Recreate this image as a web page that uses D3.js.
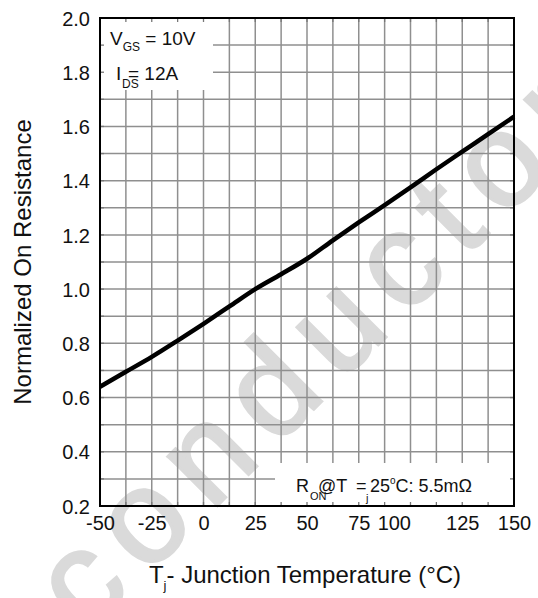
<html>
<head>
<meta charset="utf-8">
<script src="https://d3js.org/d3.v7.min.js"></script>
<style>
body { margin: 0; background: #fff; }
svg { display: block; font-family: "Liberation Sans", Arial, sans-serif; }
text { fill: #111; }
</style>
</head>
<body>
<div id="plot"></div>
<script>
// curve: junction temperature (°C) vs normalized R_on
var temps = [-50, -37.5, -25, -12.5, 0, 12.5, 25, 37.5, 50, 62.5, 75, 87.5, 100, 112.5, 125, 137.5, 150];
var resistance = [0.64, 0.695, 0.75, 0.81, 0.872, 0.936, 1.0, 1.055, 1.112, 1.18, 1.246, 1.31, 1.375, 1.442, 1.507, 1.572, 1.636];

var xTicks = [-50, -25, 0, 25, 50, 75, 100, 125, 150];
var yTicks = [0.2, 0.4, 0.6, 0.8, 1.0, 1.2, 1.4, 1.6, 1.8, 2.0];
var xGrid = d3.range(-50, 150.01, 12.5);
var yGrid = d3.range(0.2, 2.001, 0.1);

var W = 538, H = 598;
var pLeft = 100, pTop = 18, pRight = 514, pBottom = 506;

var svg = d3.select("#plot").append("svg").attr("width", W).attr("height", H);

var x = d3.scaleLinear().domain([-50, 150]).range([pLeft, pRight]);
var y = d3.scaleLinear().domain([0.2, 2.0]).range([pBottom, pTop]);

// watermark behind everything
svg.append("text")
  .attr("transform", "translate(87,636) rotate(-45)")
  .style("font-size", "132px")
  .style("letter-spacing", "18px")
  .style("fill", "#dadada")
  .style("stroke", "#dadada")
  .style("stroke-width", 3)
  .text("conductor");

// grid
var grid = svg.append("g").attr("stroke", "#8f8f8f").attr("stroke-width", 1.5);
grid.selectAll("line.v").data(xGrid).enter().append("line")
  .attr("class", "v")
  .attr("x1", d => x(d)).attr("x2", d => x(d))
  .attr("y1", pTop).attr("y2", pBottom);
grid.selectAll("line.h").data(yGrid).enter().append("line")
  .attr("class", "h")
  .attr("x1", pLeft).attr("x2", pRight)
  .attr("y1", d => y(d)).attr("y2", d => y(d));

// white label boxes that hide the grid
svg.append("rect").attr("x", pLeft).attr("y", pTop).attr("width", 113).attr("height", 72).attr("fill", "#fff");
svg.append("rect").attr("x", 275).attr("y", 463).attr("width", pRight - 275).attr("height", pBottom - 463).attr("fill", "#fff");

// small inner ticks on all four sides
var ticks = svg.append("g").attr("stroke", "#777").attr("stroke-width", 1.3);
var tl = 4;
xGrid.forEach(function (d) {
  ticks.append("line").attr("x1", x(d)).attr("x2", x(d)).attr("y1", pTop).attr("y2", pTop + tl);
  ticks.append("line").attr("x1", x(d)).attr("x2", x(d)).attr("y1", pBottom).attr("y2", pBottom - tl);
});
yGrid.forEach(function (d) {
  ticks.append("line").attr("x1", pLeft).attr("x2", pLeft + tl).attr("y1", y(d)).attr("y2", y(d));
  ticks.append("line").attr("x1", pRight).attr("x2", pRight - tl).attr("y1", y(d)).attr("y2", y(d));
});

// the curve
var line = d3.line().x((d, i) => x(temps[i])).y(d => y(d)).curve(d3.curveMonotoneX);
svg.append("path").datum(resistance)
  .attr("d", line)
  .attr("fill", "none")
  .attr("stroke", "#000")
  .attr("stroke-width", 4.5);

// frame
svg.append("rect").attr("x", pLeft).attr("y", pTop).attr("width", pRight - pLeft).attr("height", pBottom - pTop)
  .attr("fill", "none").attr("stroke", "#000").attr("stroke-width", 2);

// axes (labels only)
var xAxis = svg.append("g").attr("transform", "translate(0," + pBottom + ")")
  .call(d3.axisBottom(x).tickValues(xTicks).tickSize(0).tickPadding(0).tickFormat(d => String(d)));
xAxis.select(".domain").remove();
xAxis.selectAll("text")
  .attr("y", 24).attr("dy", null)
  .style("font-size", "20px").style("fill", "#111")
  .style("font-family", "Liberation Sans, Arial, sans-serif");
// the 100 label sits left of its grid line in the original
xAxis.selectAll(".tick").filter(d => d === 100).select("text").attr("text-anchor", "end");

var yAxis = svg.append("g").attr("transform", "translate(" + pLeft + ",0)")
  .call(d3.axisLeft(y).tickValues(yTicks).tickSize(0).tickPadding(10).tickFormat(d3.format(".1f")));
yAxis.select(".domain").remove();
yAxis.selectAll("text")
  .attr("dy", "0.36em")
  .style("font-size", "20px").style("fill", "#111")
  .style("font-family", "Liberation Sans, Arial, sans-serif");

// axis titles
svg.append("text")
  .attr("transform", "translate(31,262) rotate(-90)")
  .attr("text-anchor", "middle")
  .style("font-size", "24px")
  .text("Normalized On Resistance");

var xt = svg.append("text").attr("x", 305).attr("y", 583).attr("text-anchor", "middle").style("font-size", "24px");
xt.append("tspan").text("T");
xt.append("tspan").attr("dy", 7).style("font-size", "13px").text("j");
xt.append("tspan").attr("dy", -7).text("- Junction Temperature (°C)");

// conditions, top left
var t1 = svg.append("text").attr("x", 110).attr("y", 45).style("font-size", "19px");
t1.append("tspan").text("V");
t1.append("tspan").attr("dy", 6).style("font-size", "12px").text("GS");
t1.append("tspan").attr("dy", -6).text(" = 10V");

svg.append("text").attr("x", 116).attr("y", 80).style("font-size", "19px").text("I");
svg.append("text").attr("x", 122).attr("y", 88).style("font-size", "12px").text("DS");
svg.append("text").attr("x", 128).attr("y", 80).style("font-size", "19px").text("= 12A");

// reference resistance, bottom right
var fs = "18px";
svg.append("text").attr("x", 296).attr("y", 492).style("font-size", fs).text("R");
svg.append("text").attr("x", 310).attr("y", 500).style("font-size", "11px").text("ON");
svg.append("text").attr("x", 318).attr("y", 492).style("font-size", fs).text("@T");
svg.append("text").attr("x", 356).attr("y", 492).style("font-size", fs).text("=");
svg.append("text").attr("x", 366).attr("y", 502).style("font-size", "11px").text("j");
var t3 = svg.append("text").attr("x", 370).attr("y", 492).style("font-size", fs);
t3.append("tspan").text("25");
t3.append("tspan").attr("dy", -8).style("font-size", "10px").text("o");
t3.append("tspan").attr("dy", 8).text("C: 5.5m\u03A9");
</script>
</body>
</html>
